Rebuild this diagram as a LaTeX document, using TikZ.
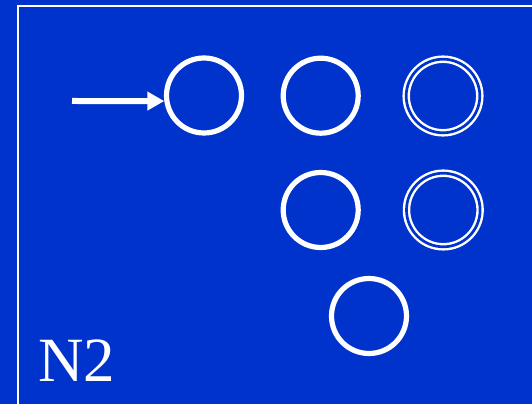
\documentclass[tikz,border=0pt]{standalone}
\usepackage{fontspec}
\setmainfont{Liberation Serif}
\newfontfamily\labelfont{Liberation Serif}
\usetikzlibrary{arrows.meta}
\definecolor{bg}{RGB}{0,51,204}
\begin{document}
\begin{tikzpicture}[x=1pt,y=1pt,
  state/.style={circle,draw=white,line width=5.2pt,minimum size=75pt,inner sep=0pt},
  accept/.style={circle,draw=white,line width=2.4pt,double=bg,double distance=2.7pt,minimum size=73.6pt,inner sep=0pt},
  frameline/.style={draw=white,line width=1.4pt}]
\fill[bg] (0,0) rectangle (532,404);
\useasboundingbox (0,0) rectangle (532,404);
\draw[frameline] (18,-2) -- (18,398) -- (534,398);
\node[state] (q0) at (204,308.5) {};
\node[state] (q1) at (320.7,308.3) {};
\node[accept] (q2) at (443,308) {};
\node[state] (q3) at (320.7,194) {};
\node[accept] (q4) at (443.3,194) {};
\node[state] (q5) at (369,88) {};
\coordinate (start) at (72,303);
\draw[white,line width=6pt,-{Triangle[length=17pt,width=18pt]}] (start) -- (q0.188);
\node[text=white,font=\labelfont\fontsize{63}{63}\selectfont,anchor=base west,inner sep=0pt] (lbl) at (38,22.5) {N2};
\end{tikzpicture}
\end{document}
